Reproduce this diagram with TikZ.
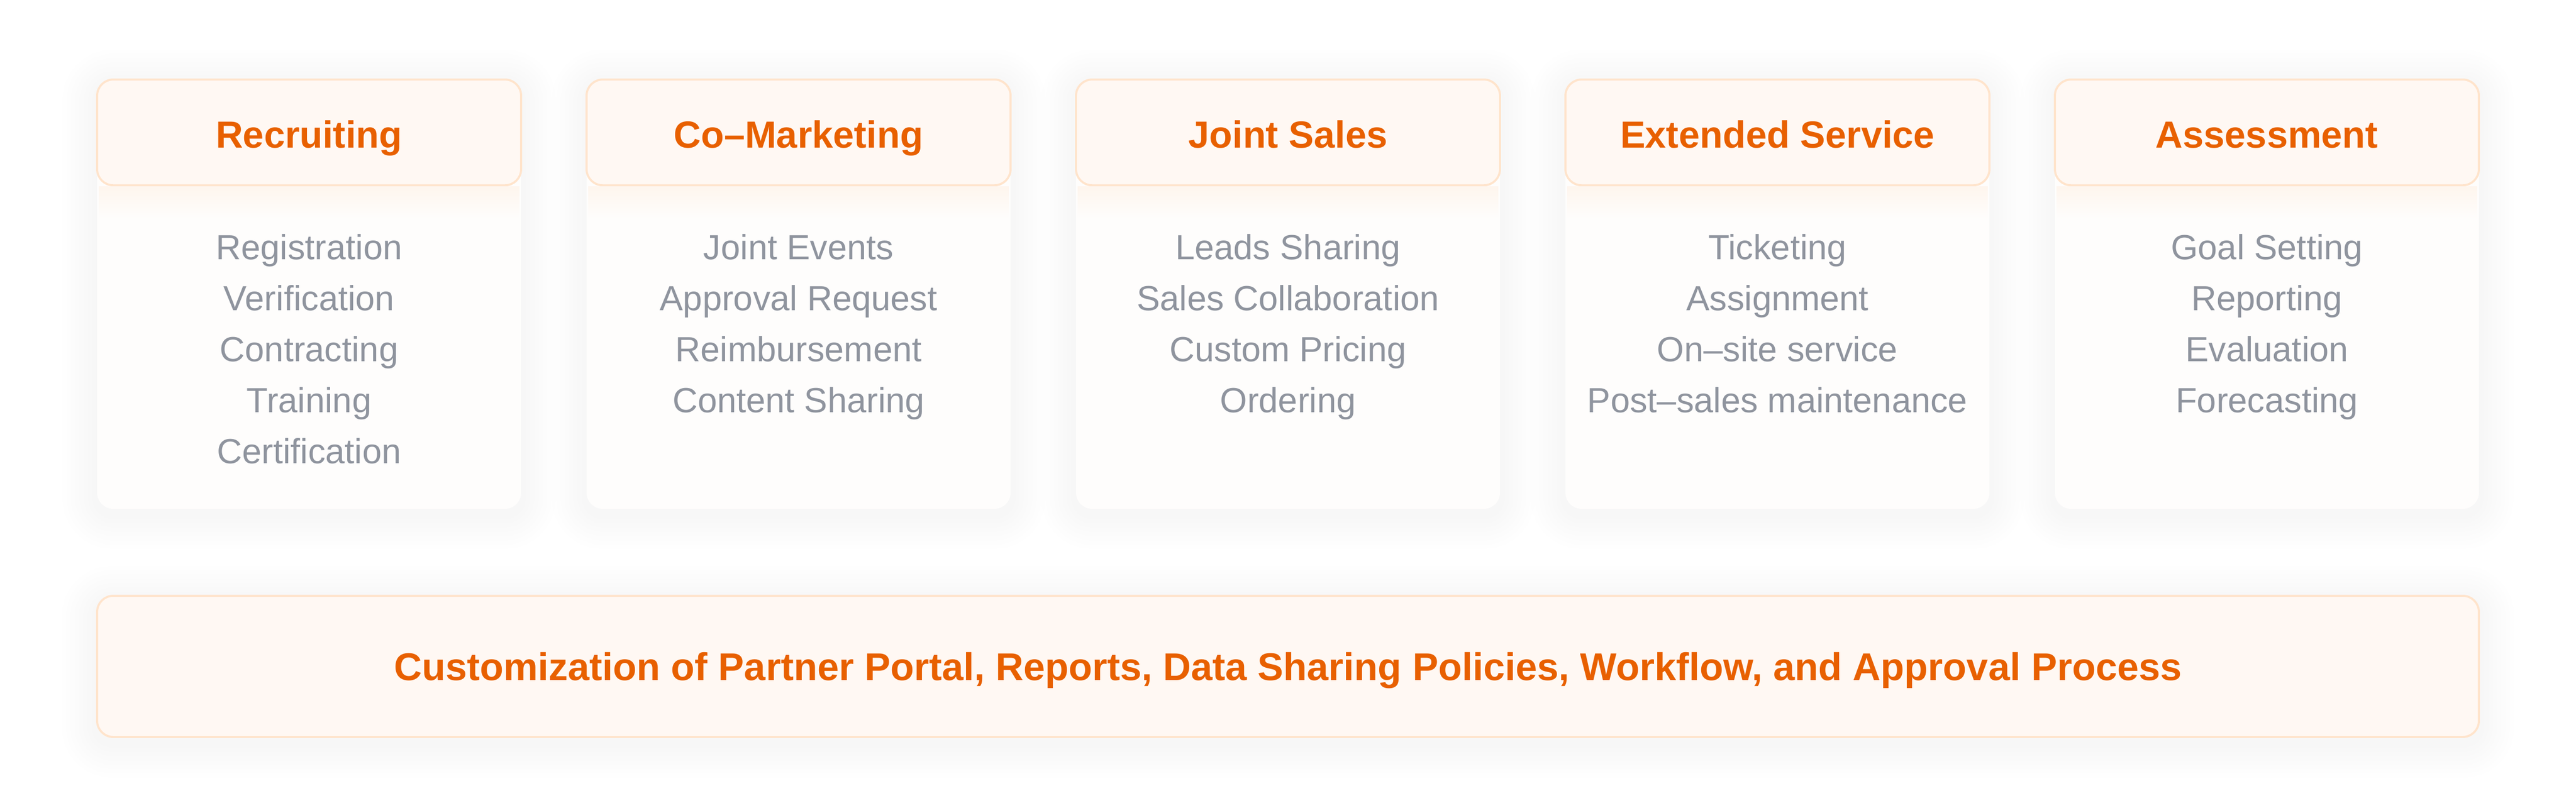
\documentclass[tikz,border=0pt]{standalone}
\usepackage{fontspec}
\setmainfont{Liberation Sans}
\usetikzlibrary{positioning,backgrounds}
\definecolor{accent}{RGB}{232,96,0}
\definecolor{tint}{RGB}{255,248,243}
\definecolor{rim}{RGB}{255,228,204}
\definecolor{muted}{RGB}{143,148,158}
\definecolor{paper}{RGB}{254,253,252}
\begin{document}
\begin{tikzpicture}[
	card/.style={rectangle, rounded corners=0.3cm, fill=paper, minimum width=7.9cm, minimum height=8.01cm, inner sep=0pt},
	head/.style={rectangle, rounded corners=0.3cm, draw=rim, line width=1.1pt, fill=tint, minimum width=7.9cm, minimum height=1.97cm,
		inner sep=0pt, text=accent, font=\fontsize{20}{24}\selectfont\bfseries, text height=0.62cm, text depth=0.05cm},
	entry/.style={text=muted, font=\fontsize{18.5}{22}\selectfont, inner sep=0pt, anchor=base},
	banner/.style={rectangle, rounded corners=0.3cm, draw=rim, line width=1.1pt, fill=tint, minimum width=44.38cm, minimum height=2.63cm,
		inner sep=0pt, text=accent, font=\fontsize{20.5}{24}\selectfont\bfseries, text height=0.52cm, text depth=0cm},
	haze/.style={fill=black, opacity=0.004}
]
	\useasboundingbox (0,0) rectangle (48,14.96);
	\foreach \heading/\tasks [count=\i from 0] in {
		Recruiting/{Registration,Verification,Contracting,Training,Certification},
		Co–Marketing/{Joint Events,Approval Request,Reimbursement,Content Sharing},
		Joint Sales/{Leads Sharing,Sales Collaboration,Custom Pricing,Ordering},
		Extended Service/{Ticketing,Assignment,On–site service,Post–sales maintenance},
		Assessment/{Goal Setting,Reporting,Evaluation,Forecasting}}
	{
		\node[card] (card\i) at (5.76+9.12*\i, 9.485) {};
		\node[head, anchor=north] (head\i) at (card\i.north) {\heading};
		\shade[top color=rim!30!paper, bottom color=paper] ([xshift=0.05cm]head\i.south west) rectangle ([xshift=-0.05cm, yshift=-0.6cm]head\i.south east);
		\foreach \task [count=\j from 0] in \tasks {
			\pgfmathsetmacro\dy{-1.36-0.95*\j}
			\node[entry] (task\i\j) at ([yshift=\dy cm]head\i.south) {\task};
		}
	}
	\node[banner] (portal) at (24,2.545) {Customization of Partner Portal, Reports, Data Sharing Policies, Workflow, and Approval Process};
	\begin{scope}[on background layer]
		\fill[white] (0,0) rectangle (48,14.96);
		\foreach \n in {card0,card1,card2,card3,card4,portal}
			\foreach \k in {1,...,8} {
				\pgfmathsetmacro\r{0.3+0.08*\k}
				\pgfmathsetmacro\g{0.08*\k}
				\fill[haze, rounded corners=\r cm] ([shift={(-\g,-\g-0.1)}]\n.south west) rectangle ([shift={(\g,\g-0.1)}]\n.north east);
			}
	\end{scope}
\end{tikzpicture}
\end{document}
